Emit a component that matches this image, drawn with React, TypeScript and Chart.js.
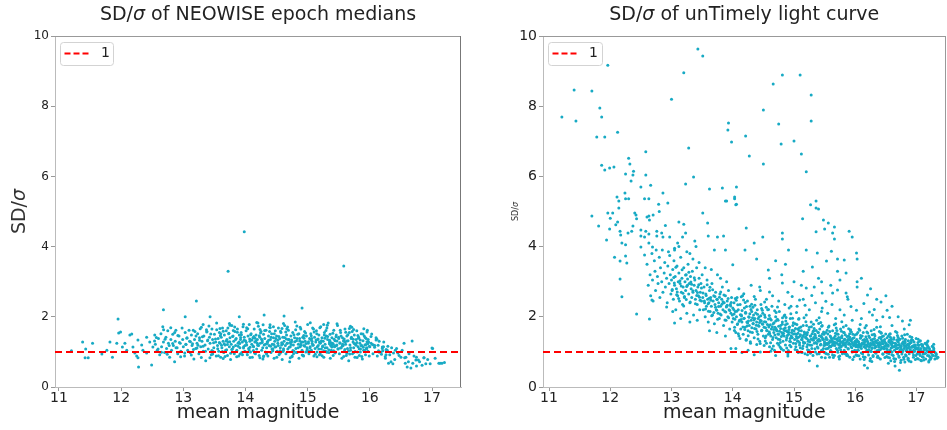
import React, { useEffect, useRef } from "react";
import { Chart, registerables } from "chart.js";
Chart.register(...registerables);

// ---------- data ----------
const xTickValues = [11, 12, 13, 14, 15, 16, 17];
const yTickValues = [0, 2, 4, 6, 8, 10];
const referenceLevel = 1;
const legendLabel = "1";

const leftTitle = "of NEOWISE epoch medians";
const rightTitle = "of unTimely light curve";
const xAxisLabel = "mean magnitude";

// NEOWISE epoch medians: [mag, SD/sigma] pairs
const neowiseXY: number[] = [
  11.2,1.03, 11.38,1.28, 11.43,1.08, 11.42,0.83, 11.47,0.83, 11.54,1.25, 11.69,0.94, 11.77,1.05, 11.82,1.28, 11.86,0.85,
  11.93,1.25, 11.95,1.94, 11.96,1.54, 11.99,1.57, 12.02,1.14, 12.06,1.25, 12.09,1.05, 12.14,1.48, 12.17,1.51, 12.19,1.14,
  12.22,0.97, 12.25,0.88, 12.27,0.83, 12.28,0.57, 12.27,1.34, 12.33,1.2, 12.35,1.05, 12.41,1.42, 12.41,0.97, 12.46,1.28,
  12.49,0.63, 12.51,1.14, 12.54,1.48,
  12.55,1.22, 12.58,1.05, 12.6,1.38, 12.62,0.92, 12.64,1.52, 12.65,1.15, 12.67,1.72, 12.68,1.28, 12.7,0.98, 12.68,2.2,
  12.72,1.42, 12.73,1.1, 12.75,1.6, 12.76,1.25, 12.78,0.85, 12.8,1.35, 12.81,1.05, 12.83,1.5, 12.84,1.18, 12.86,0.72,
  12.87,1.3, 12.88,1.62, 12.9,1.12, 12.91,0.95, 12.93,1.45, 12.95,1.25, 12.96,1.02, 12.98,1.68, 12.99,1.35, 13.0,1.15,
  13.02,0.88, 13.03,1.55, 13.04,1.22, 13.06,1.4, 13.07,1.05, 13.03,2.0, 13.1,1.3, 13.11,0.98, 13.13,1.48, 13.14,1.18,
  13.16,1.62, 13.17,0.8, 13.18,1.35, 13.2,1.1, 13.21,2.45, 13.22,1.25, 13.23,1.52, 13.25,0.95, 13.26,1.4, 13.28,1.15,
  13.29,1.7, 13.3,1.3, 13.32,1.02, 13.33,1.45, 13.35,1.2, 13.36,0.75, 13.38,1.58, 13.39,1.32, 13.4,1.08, 13.42,1.42,
  13.43,1.25, 13.45,0.92, 13.46,1.65, 13.47,1.35, 13.49,1.12, 13.5,1.5, 13.43,2.0, 13.52,1.28, 13.53,0.88,
  13.55,1.18, 13.56,1.38, 13.57,1.02, 13.58,1.55, 13.59,1.25, 13.6,0.85, 13.61,1.42, 13.62,1.12, 13.63,1.68, 13.64,1.3,
  13.65,0.98, 13.66,1.48, 13.67,1.2, 13.68,1.05, 13.69,1.6, 13.7,1.35, 13.71,0.9, 13.72,1.28, 13.72,3.3, 13.73,1.52,
  13.74,1.15, 13.75,1.4, 13.76,0.78, 13.77,1.22, 13.78,1.75, 13.79,1.08, 13.8,1.45, 13.81,1.3, 13.82,0.95, 13.83,1.58,
  13.84,1.18, 13.85,1.38, 13.86,1.05, 13.87,1.65, 13.88,1.25, 13.89,0.88, 13.9,1.48, 13.9,2.0, 13.91,1.12, 13.92,1.35,
  13.93,1.55, 13.94,0.98, 13.95,1.28, 13.96,1.72, 13.97,1.15, 13.98,1.42, 13.98,4.42, 13.99,1.02, 14.0,1.32,
  14.01,1.6, 14.02,1.2, 14.03,0.92, 14.04,1.45, 14.05,1.1, 14.06,1.78, 14.07,1.3, 14.08,1.0, 14.09,1.52, 14.1,1.22,
  14.11,0.85, 14.12,1.4, 14.13,1.15, 14.14,1.65, 14.15,1.28, 14.16,0.95, 14.17,1.48, 14.18,1.08, 14.19,1.35, 14.2,1.82,
  14.21,1.18, 14.22,0.9, 14.23,1.42, 14.24,1.25, 14.25,1.58, 14.26,1.05, 14.27,1.32, 14.28,0.8, 14.29,1.5, 14.3,1.2,
  14.3,2.05, 14.31,1.38, 14.32,1.0, 14.33,1.62, 14.34,1.12, 14.35,1.28, 14.36,0.88, 14.37,1.45, 14.38,1.18, 14.39,1.7,
  14.4,1.35, 14.41,0.98, 14.42,1.52, 14.43,1.22, 14.44,1.08, 14.45,1.4, 14.46,0.82, 14.47,1.3, 14.48,1.6, 14.49,1.15,
  14.5,1.45, 14.51,1.02, 14.52,1.25, 14.53,1.68, 14.54,0.92, 14.55,1.38, 14.56,1.12, 14.57,1.55, 14.58,1.2, 14.59,0.78,
  14.6,1.42, 14.61,1.05, 14.62,1.3, 14.62,2.02, 14.63,1.75, 14.64,1.18, 14.65,0.95, 14.66,1.48, 14.67,1.25, 14.68,1.08,
  14.69,1.62, 14.7,1.35, 14.71,0.72, 14.72,1.15, 14.73,1.45, 14.74,1.28, 14.75,0.88, 14.76,1.55, 14.77,1.2, 14.78,1.02,
  14.79,1.4, 14.8,1.85, 14.81,1.1, 14.82,1.32, 14.83,0.98, 14.84,1.5, 14.85,1.22, 14.86,0.82, 14.87,1.38, 14.88,1.15,
  14.89,1.65, 14.9,1.28, 14.91,2.25, 14.91,1.05, 14.92,1.42, 14.93,0.9, 14.94,1.18, 14.95,1.58, 14.96,1.3, 14.97,1.0,
  14.98,1.45, 14.99,1.12, 15.0,1.78,
  15.01,1.25, 15.02,0.95, 15.03,1.38, 15.04,1.15, 15.05,1.52, 15.06,1.05, 15.07,1.3, 15.08,1.68, 15.09,1.2, 15.1,0.88,
  15.11,1.42, 15.12,1.1, 15.13,1.28, 15.14,1.6, 15.15,1.0, 15.16,1.35, 15.17,1.18, 15.18,1.48, 15.19,0.92, 15.2,1.25,
  15.21,1.72, 15.22,1.08, 15.23,1.4, 15.24,1.15, 15.25,1.3, 15.26,0.85, 15.27,1.55, 15.28,1.22, 15.29,1.02, 15.3,1.45,
  15.31,1.12, 15.32,1.35, 15.33,1.82, 15.34,0.98, 15.35,1.28, 15.36,1.5, 15.37,1.18, 15.38,1.05, 15.39,1.4, 15.4,1.25,
  15.41,0.9, 15.42,1.62, 15.43,1.15, 15.44,1.32, 15.45,1.0, 15.46,1.48, 15.47,1.2, 15.48,1.75, 15.49,1.08, 15.5,1.38,
  15.51,0.95, 15.52,1.25, 15.53,1.55, 15.54,1.12, 15.55,0.82, 15.56,1.4, 15.57,1.18, 15.58,3.45, 15.58,1.3, 15.59,1.02,
  15.6,1.65, 15.61,1.22, 15.62,0.9, 15.63,1.45, 15.64,1.1, 15.65,1.32, 15.66,0.75, 15.67,1.55, 15.68,1.2, 15.69,1.05,
  15.7,1.38, 15.71,1.7, 15.72,0.95, 15.73,1.28, 15.74,1.12, 15.75,1.48, 15.76,0.85, 15.77,1.22, 15.78,1.35, 15.79,1.6,
  15.8,1.0, 15.81,1.15, 15.82,1.42, 15.83,0.9, 15.84,1.25, 15.85,1.08, 15.86,1.52, 15.87,1.18, 15.88,0.8, 15.89,1.32,
  15.9,1.05, 15.91,1.45, 15.92,1.2, 15.93,0.92, 15.94,1.38, 15.95,1.12, 15.96,1.62, 15.97,1.02, 15.98,1.28, 15.99,0.88,
  16.0,1.15,
  16.02,1.25, 15.95,1.1, 16.06,1.2, 16.14,1.03, 16.2,1.1, 16.26,0.92, 16.3,0.68, 16.34,0.72, 16.37,0.66, 16.43,1.1,
  16.45,0.97, 16.55,1.25, 16.58,0.85, 16.6,0.57, 16.62,0.72, 16.66,0.54, 16.68,1.31, 16.69,0.68, 16.74,0.77, 16.75,0.6,
  16.75,0.85, 16.78,0.77, 16.87,0.83, 16.9,0.66, 16.97,0.66, 17.01,1.1, 17.11,0.68, 17.16,0.68, 16.5,0.85, 16.38,0.97,
  16.1,1.4, 16.03,1.51, 16.56,0.83, 16.57,0.68, 16.1,1.34, 16.2,1.14, 16.41,1.05, 16.87,0.83, 17.0,1.11, 17.13,0.68,
  16.05,0.95, 16.08,1.18, 16.12,0.88, 16.15,1.3, 16.18,1.0, 16.22,1.15, 16.25,0.82, 16.28,1.05, 16.32,0.92, 16.35,1.12,
  16.4,0.78, 16.47,0.9, 16.52,1.05, 16.63,0.95, 16.71,0.88, 16.8,0.72, 16.84,0.62, 16.93,0.78, 17.05,0.82, 17.2,0.7,
];

// NEOWISE: denser core of the cloud
const neowiseCoreXY: number[] = [
  12.537,1.31, 12.912,1.47, 12.648,0.99, 12.773,1.18, 12.861,1.55, 12.594,1.08, 12.706,1.36, 12.957,0.86, 12.829,1.24, 12.683,1.63,
  12.741,0.93, 12.883,1.12, 12.566,1.41, 12.798,1.69, 12.937,1.27,
  13.043,1.21, 13.377,1.57, 13.128,0.91, 13.261,1.33, 13.459,1.04, 13.092,1.62, 13.318,1.16, 13.204,1.45, 13.486,1.26, 13.163,1.07,
  13.412,1.74, 13.057,1.39, 13.289,0.84, 13.235,1.19, 13.441,1.51, 13.114,1.29, 13.356,1.02, 13.187,1.58, 13.023,0.97, 13.394,1.34,
  13.271,1.66, 13.148,1.23, 13.472,0.94, 13.307,1.43, 13.219,1.11,
  13.517,1.37, 13.883,1.16, 13.642,1.59, 13.761,0.96, 13.579,1.27, 13.934,1.49, 13.708,1.21, 13.826,1.71, 13.553,1.09, 13.977,1.33,
  13.671,0.87, 13.792,1.44, 13.614,1.19, 13.856,1.02, 13.733,1.53, 13.908,1.24, 13.537,1.63, 13.689,1.31, 13.951,0.92, 13.804,1.14,
  13.596,1.46, 13.747,1.29, 13.869,1.56, 13.628,1.01, 13.992,1.18, 13.716,1.68, 13.564,0.89, 13.841,1.35, 13.657,1.23, 13.923,1.41,
  13.779,1.07, 13.603,1.52, 13.895,1.28, 13.742,1.81, 13.968,1.11,
  14.013,1.27, 14.387,1.58, 14.146,0.97, 14.259,1.36, 14.472,1.14, 14.083,1.49, 14.321,1.22, 14.207,1.73, 14.439,1.03, 14.168,1.31,
  14.036,1.66, 14.294,0.88, 14.412,1.42, 14.121,1.17, 14.353,1.29, 14.241,1.54, 14.058,1.06, 14.487,1.38, 14.189,1.25, 14.277,1.12,
  14.397,1.69, 14.104,1.34, 14.338,0.94, 14.221,1.46, 14.456,1.21, 14.072,1.13, 14.309,1.61, 14.154,1.39, 14.426,1.08, 14.268,1.27,
  14.024,0.99, 14.371,1.33, 14.196,1.19, 14.463,1.52, 14.135,1.44, 14.283,1.77, 14.404,1.16, 14.067,1.37, 14.349,1.24, 14.232,0.83,
  14.518,1.33, 14.893,1.19, 14.647,1.57, 14.762,1.04, 14.581,1.26, 14.937,1.47, 14.704,1.13, 14.829,1.38, 14.556,0.96, 14.973,1.24,
  14.676,1.71, 14.791,1.29, 14.612,1.09, 14.858,1.52, 14.733,1.21, 14.912,0.91, 14.537,1.44, 14.689,1.35, 14.954,1.16, 14.807,1.63,
  14.598,1.23, 14.748,0.86, 14.871,1.31, 14.629,1.41, 14.992,1.07, 14.716,1.27, 14.563,1.59, 14.846,1.12, 14.657,1.37, 14.924,1.28,
  14.779,1.49, 14.603,1.01, 14.889,1.22, 14.742,1.34, 14.966,1.54, 14.527,1.18, 14.818,0.98, 14.671,1.25, 14.941,1.39, 14.587,1.67,
  15.013,1.29, 15.387,1.14, 15.146,1.52, 15.259,1.03, 15.472,1.31, 15.083,1.19, 15.321,1.44, 15.207,1.26, 15.439,0.97, 15.168,1.37,
  15.036,1.11, 15.294,1.61, 15.412,1.22, 15.121,0.93, 15.353,1.33, 15.241,1.17, 15.058,1.46, 15.487,1.09, 15.189,1.28, 15.277,1.39,
  15.397,1.21, 15.104,1.57, 15.338,1.06, 15.221,1.32, 15.456,1.43, 15.072,1.24, 15.309,0.99, 15.154,1.15, 15.426,1.36, 15.268,1.48,
  15.024,1.02, 15.371,1.27, 15.196,1.69, 15.463,1.18, 15.135,1.34, 15.283,1.12, 15.404,1.53, 15.067,1.38, 15.349,1.23, 15.232,0.89,
  15.498,1.42, 15.178,1.08, 15.315,1.76, 15.048,1.35, 15.442,1.16,
  15.518,1.26, 15.893,1.13, 15.647,1.49, 15.762,1.01, 15.581,1.33, 15.937,1.21, 15.704,1.42, 15.829,1.09, 15.556,1.17, 15.973,1.35,
  15.676,0.94, 15.791,1.27, 15.612,1.56, 15.858,1.18, 15.733,1.36, 15.912,1.04, 15.537,1.45, 15.689,1.12, 15.954,1.29, 15.807,1.47,
  15.598,1.07, 15.748,1.24, 15.871,0.87, 15.629,1.31, 15.992,1.16, 15.716,1.58, 15.563,1.22, 15.846,1.34, 15.657,1.03, 15.924,1.41,
  15.779,1.19, 15.603,1.28, 15.889,1.51, 15.742,0.98, 15.966,1.23, 15.527,1.11, 15.818,1.39, 15.671,1.67, 15.941,1.08, 15.587,1.37,
  16.041,1.21, 16.187,0.93, 16.113,1.36, 16.262,1.07, 16.076,1.13, 16.224,1.28, 16.153,0.99, 16.289,1.16, 16.018,1.44, 16.209,1.03,
  16.133,1.19, 16.247,0.86,
];

// NEOWISE: upper and lower edges of the cloud
const neowiseEdgeXY: number[] = [
  13.318,1.78, 13.427,0.83, 13.536,1.82, 13.641,0.81, 13.752,1.76, 13.858,0.86, 13.967,1.79, 14.072,0.84, 14.181,1.84, 14.289,0.87,
  14.395,1.77, 14.503,0.85, 14.611,1.81, 14.719,0.83, 14.826,1.74, 14.934,0.88, 15.042,1.83, 15.149,0.86, 15.257,1.78, 15.364,0.82,
  15.472,1.8, 15.579,0.87, 15.687,1.73, 15.795,0.84, 15.903,1.66,
  13.372,1.63, 13.481,1.01, 13.589,1.67, 13.697,1.06, 13.804,1.61, 13.912,0.94, 14.019,1.69, 14.127,1.04, 14.234,1.64, 14.342,0.97,
  14.449,1.72, 14.557,1.03, 14.664,1.66, 14.772,0.95, 14.879,1.7, 14.987,1.01, 15.094,1.65, 15.202,0.94, 15.309,1.68, 15.417,1.03,
  15.524,1.62, 15.632,0.96, 15.739,1.64, 15.847,1.0, 15.954,1.57,
];

// unTimely light curve: [mag, SD/sigma] pairs (sparse upper part and outliers)
const untimelyXY: number[] = [
  11.21,7.69, 11.41,8.46, 11.44,7.58, 11.7,8.43, 11.96,9.17, 11.83,7.95, 11.86,7.69, 11.78,7.12, 11.91,7.12, 12.12,7.26,
  13.0,8.2, 11.86,6.32, 11.91,6.18, 11.99,6.24, 12.06,6.27, 12.3,6.52, 12.32,6.35, 12.38,6.15, 12.37,6.04, 12.25,6.07,
  12.58,6.7, 12.58,6.04, 12.34,5.87, 12.5,5.7, 12.66,5.75, 12.24,5.53, 12.11,5.41, 12.14,5.3, 12.25,5.36, 12.3,5.36,
  12.56,5.36, 12.63,5.36, 12.79,5.21, 12.94,5.24, 12.86,5.53, 12.14,5.1, 11.7,4.87, 11.81,4.59, 11.94,4.19, 11.96,4.96,
  12.04,4.96, 12.0,4.81, 12.12,4.7, 12.09,4.62, 11.99,4.5, 12.16,4.44, 12.17,4.33, 12.19,4.1, 12.25,4.05, 12.07,3.7,
  12.16,3.59, 12.27,3.53, 12.16,3.08, 12.25,3.73, 12.29,4.39, 12.35,4.44, 12.37,4.59, 12.4,4.96, 12.42,4.9, 12.43,4.79,
  12.5,4.47, 12.58,4.44, 12.5,4.3, 12.63,4.36, 12.56,4.27, 12.6,4.84, 12.63,4.87, 12.64,4.76, 12.5,3.99, 12.56,3.76,
  12.69,3.99, 12.76,4.44, 12.84,4.39, 12.86,4.27, 12.97,4.27, 13.18,4.27, 13.23,4.39, 13.12,4.7, 13.2,4.64, 13.23,5.78,
  13.36,5.98, 13.28,6.81, 13.62,5.64, 13.83,5.67, 13.59,4.67, 13.51,4.96, 13.75,4.27, 13.38,4.16, 13.9,5.3, 14.03,5.36,
  14.06,5.21, 13.93,7.52, 13.92,7.32, 13.98,6.98, 13.88,3.9, 13.43,9.63, 13.51,9.43, 13.2,8.95, 12.19,2.57, 12.43,2.08,
  12.64,1.94, 12.92,2.28, 12.68,2.48, 13.05,1.82,
  14.81,8.89, 15.1,8.89, 14.66,8.63, 15.28,8.32, 14.5,7.89, 14.75,7.49, 15.28,7.58, 14.21,7.15, 15.0,7.01, 14.79,6.92,
  15.12,6.64, 14.27,6.58, 14.5,6.35, 15.2,6.13, 14.06,5.7, 14.03,5.41, 13.88,5.3, 14.05,5.19, 15.36,5.3, 15.27,5.19,
  15.36,5.1, 15.4,5.07, 15.14,4.79, 15.48,4.76, 15.56,4.67, 14.22,4.53, 14.49,4.27, 14.81,4.39, 14.81,4.22, 15.36,4.42,
  15.66,4.56, 15.5,4.5, 15.63,4.39, 15.9,4.44, 15.95,4.27, 15.66,4.22, 14.91,3.9, 15.2,3.9, 15.38,3.82, 15.61,3.87,
  16.02,3.82, 16.03,3.65, 14.39,3.65, 14.86,3.5, 15.53,3.59, 15.71,3.65, 15.82,3.62, 14.0,3.48, 14.58,3.33, 15.3,3.42,
  15.71,3.3, 15.85,3.25,
  15.0,3.0, 15.15,3.3, 15.45,3.0, 15.6,2.9, 15.75,3.05, 16.1,3.1, 16.25,2.8, 16.35,2.5, 16.5,2.6, 16.6,2.3,
  16.7,2.0, 16.9,1.9, 14.9,2.7, 14.7,3.6, 14.2,3.9, 14.35,4.1, 13.7,3.9, 13.85,4.3, 13.6,4.3, 13.3,3.8,
  13.1,4.1, 12.9,4.6, 12.7,4.9, 12.8,5.0, 13.05,3.95, 13.4,4.0, 12.95,3.85, 12.75,3.9,
  14.97,2.58, 15.18,2.33, 15.29,2.61, 15.52,2.44, 15.71,2.76, 15.93,2.29, 16.14,2.38, 16.31,2.21, 16.56,1.98, 16.77,1.88,
  15.04,2.12, 15.41,1.97, 15.78,1.86, 16.08,1.78, 16.41,1.72, 14.73,2.28, 14.52,2.42, 14.87,1.98, 14.35,2.58, 14.18,2.66,
  14.62,1.02, 14.83,1.05, 15.07,0.98, 15.22,0.92, 15.51,0.83, 15.73,0.86, 15.96,0.78, 16.27,0.73, 16.54,0.68, 16.81,0.71,
  17.07,0.76,
];

// unTimely: the main band
const untimelyBandXY: number[] = [
  12.6,3.5, 12.62,2.9, 12.63,4.1, 12.65,3.2, 12.66,2.6, 12.68,3.8, 12.69,3.05, 12.7,2.45, 12.72,3.6, 12.73,3.3,
  12.74,2.75, 12.76,4.3, 12.77,3.15, 12.78,2.95, 12.8,3.7, 12.81,2.55, 12.82,3.4, 12.84,3.0, 12.85,3.9, 12.86,2.7,
  12.88,3.25, 12.89,3.55, 12.9,2.85, 12.92,3.1, 12.93,2.4, 12.94,3.45, 12.96,2.95, 12.97,3.75, 12.98,3.2, 12.99,2.65,
  13.0,3.05, 13.01,2.75, 13.02,3.35, 13.03,2.5, 13.04,3.6, 13.05,2.9, 13.06,3.15, 13.07,2.2, 13.08,2.8, 13.09,3.45,
  13.1,2.6, 13.11,3.0, 13.12,3.25, 13.13,2.45, 13.14,2.95, 13.15,3.7, 13.16,2.7, 13.17,3.1, 13.18,2.35, 13.19,2.85,
  13.2,3.4, 13.21,2.55, 13.22,3.0, 13.23,2.75, 13.24,3.2, 13.25,2.1, 13.26,2.9, 13.27,3.5, 13.28,2.65, 13.29,2.95,
  13.3,2.4, 13.31,3.15, 13.32,2.8, 13.33,2.55, 13.34,3.3, 13.35,2.7, 13.36,2.05, 13.37,2.9, 13.38,3.05, 13.39,2.5,
  13.4,2.75, 13.41,3.4, 13.42,2.35, 13.43,2.85, 13.44,2.6, 13.45,3.1, 13.46,2.2, 13.47,2.7, 13.48,2.95, 13.49,2.45,
  13.5,3.2, 13.05,3.9, 13.12,4.0, 13.25,3.85, 13.35,3.65, 13.45,3.55, 13.02,2.15, 13.15,1.95, 13.3,1.85, 13.42,1.9,
  13.51,2.55, 13.52,2.2, 13.53,2.85, 13.54,2.4, 13.55,2.0, 13.56,2.65, 13.57,2.3, 13.58,3.05, 13.59,2.5, 13.6,1.85,
  13.61,2.4, 13.62,2.75, 13.63,2.15, 13.64,2.55, 13.65,2.3, 13.66,2.95, 13.67,2.05, 13.68,2.45, 13.69,2.6, 13.7,1.8,
  13.71,2.35, 13.72,2.7, 13.73,2.2, 13.74,2.5, 13.75,3.2, 13.76,2.1, 13.77,2.4, 13.78,1.95, 13.79,2.65, 13.8,2.3,
  13.81,2.05, 13.82,2.5, 13.83,2.85, 13.84,2.2, 13.85,1.75, 13.86,2.4, 13.87,2.15, 13.88,2.6, 13.89,1.9, 13.9,2.3,
  13.91,2.45, 13.92,2.0, 13.93,2.75, 13.94,2.2, 13.95,1.65, 13.96,2.35, 13.97,2.1, 13.98,2.55, 13.99,1.85, 14.0,2.25,
  13.55,3.4, 13.65,3.35, 13.8,3.1, 13.9,3.0, 13.62,1.6, 13.74,1.55, 13.88,1.45, 13.97,1.1,
  14.01,1.95, 14.02,2.4, 14.03,1.7, 14.04,2.15, 14.05,1.55, 14.06,2.0, 14.07,2.55, 14.08,1.8, 14.09,2.2, 14.1,1.45,
  14.11,1.9, 14.12,2.35, 14.13,1.65, 14.14,2.05, 14.15,1.85, 14.16,2.6, 14.17,1.5, 14.18,1.95, 14.19,2.25, 14.2,1.7,
  14.21,2.1, 14.22,1.35, 14.23,1.85, 14.24,2.45, 14.25,1.6, 14.26,2.0, 14.27,1.75, 14.28,2.3, 14.29,1.25, 14.3,1.9,
  14.31,2.15, 14.32,1.55, 14.33,1.8, 14.34,2.05, 14.35,1.4, 14.36,1.95, 14.37,2.5, 14.38,1.65, 14.39,1.85, 14.4,2.2,
  14.41,1.5, 14.42,1.75, 14.43,2.0, 14.44,1.3, 14.45,1.9, 14.46,2.35, 14.47,1.6, 14.48,1.8, 14.49,2.1, 14.5,1.45,
  14.05,1.1, 14.15,0.98, 14.25,1.05, 14.35,0.92, 14.45,1.0, 14.1,2.8, 14.3,2.9, 14.45,2.75,
  14.51,1.7, 14.52,2.05, 14.53,1.4, 14.54,1.85, 14.55,1.25, 14.56,1.6, 14.57,2.2, 14.58,1.5, 14.59,1.75, 14.6,1.15,
  14.61,1.95, 14.62,1.45, 14.63,1.65, 14.64,2.3, 14.65,1.35, 14.66,1.8, 14.67,1.55, 14.68,1.05, 14.69,1.7, 14.7,2.0,
  14.71,1.4, 14.72,1.6, 14.73,1.25, 14.74,1.9, 14.75,1.5, 14.76,2.15, 14.77,1.35, 14.78,1.75, 14.79,1.1, 14.8,1.55,
  14.81,1.85, 14.82,1.3, 14.83,1.65, 14.84,1.45, 14.85,2.05, 14.86,1.2, 14.87,1.6, 14.88,1.4, 14.89,1.8, 14.9,0.95,
  14.91,1.5, 14.92,1.7, 14.93,1.3, 14.94,1.95, 14.95,1.15, 14.96,1.55, 14.97,1.4, 14.98,1.75, 14.99,1.25, 15.0,1.6,
  14.55,2.5, 14.65,2.6, 14.75,2.45, 14.85,2.35, 14.95,2.3, 14.6,3.1, 14.8,3.2, 14.7,0.9, 14.9,0.88,
  15.01,1.35, 15.02,1.8, 15.03,1.15, 15.04,1.5, 15.05,1.05, 15.06,1.65, 15.07,1.3, 15.08,1.95, 15.09,1.2, 15.1,1.45,
  15.11,1.0, 15.12,1.6, 15.13,1.35, 15.14,1.1, 15.15,1.75, 15.16,1.25, 15.17,1.5, 15.18,0.95, 15.19,1.4, 15.2,2.05,
  15.21,1.15, 15.22,1.55, 15.23,1.3, 15.24,1.05, 15.25,1.7, 15.26,1.2, 15.27,1.45, 15.28,1.85, 15.29,1.1, 15.3,1.35,
  15.31,0.9, 15.32,1.6, 15.33,1.25, 15.34,1.5, 15.35,1.0, 15.36,1.4, 15.37,1.9, 15.38,1.15, 15.39,1.55, 15.4,1.3,
  15.41,0.95, 15.42,1.65, 15.43,1.2, 15.44,1.45, 15.45,1.05, 15.46,1.75, 15.47,1.35, 15.48,1.1, 15.49,1.5, 15.5,1.25,
  15.05,2.3, 15.15,2.5, 15.25,2.2, 15.35,2.4, 15.45,2.15, 15.12,2.9, 15.4,3.1, 15.25,0.75, 15.38,0.6, 15.45,0.85,
  15.51,1.2, 15.52,1.55, 15.53,0.95, 15.54,1.35, 15.55,1.1, 15.56,1.7, 15.57,1.25, 15.58,0.85, 15.59,1.45, 15.6,1.15,
  15.61,1.3, 15.62,1.0, 15.63,1.6, 15.64,1.2, 15.65,1.4, 15.66,0.9, 15.67,1.25, 15.68,1.8, 15.69,1.1, 15.7,1.35,
  15.71,1.05, 15.72,1.5, 15.73,1.2, 15.74,0.8, 15.75,1.3, 15.76,1.65, 15.77,1.15, 15.78,1.4, 15.79,0.95, 15.8,1.25,
  15.81,1.55, 15.82,1.05, 15.83,1.35, 15.84,1.2, 15.85,1.75, 15.86,0.9, 15.87,1.3, 15.88,1.1, 15.89,1.45, 15.9,1.25,
  15.91,0.85, 15.92,1.6, 15.93,1.15, 15.94,1.35, 15.95,1.0, 15.96,1.5, 15.97,1.2, 15.98,1.4, 15.99,1.05, 16.0,1.3,
  15.55,2.1, 15.62,2.35, 15.68,1.95, 15.75,2.2, 15.82,2.05, 15.88,2.5, 15.95,1.9, 15.63,2.68, 15.85,2.68, 15.87,2.57,
  15.46,2.68, 15.33,2.85, 15.2,2.82, 15.09,2.48, 15.46,2.25, 14.92,2.25, 14.81,2.96, 14.44,2.85, 14.6,2.71, 16.03,2.85,
  16.03,3.0,
  16.01,1.15, 16.02,1.5, 16.03,0.9, 16.04,1.3, 16.05,1.05, 16.06,1.65, 16.07,1.2, 16.08,0.8, 16.09,1.4, 16.1,1.1,
  16.11,1.25, 16.12,0.95, 16.13,1.55, 16.14,1.15, 16.15,1.35, 16.16,0.85, 16.17,1.2, 16.18,1.75, 16.19,1.05, 16.2,1.3,
  16.21,1.0, 16.22,1.45, 16.23,1.15, 16.24,0.75, 16.25,1.25, 16.26,1.6, 16.27,1.1, 16.28,1.35, 16.29,0.9, 16.3,1.2,
  16.31,1.5, 16.32,1.0, 16.33,1.3, 16.34,1.15, 16.35,1.7, 16.36,0.85, 16.37,1.25, 16.38,1.05, 16.39,1.4, 16.4,1.2,
  16.41,0.8, 16.42,1.55, 16.43,1.1, 16.44,1.3, 16.45,0.95, 16.46,1.45, 16.47,1.15, 16.48,1.35, 16.49,1.0, 16.5,1.25,
  16.2,2.62, 16.42,2.42, 16.23,2.14, 16.02,2.19, 16.28,2.05, 16.1,1.95, 16.35,1.9, 16.45,2.0, 16.2,0.54, 16.15,0.62,
  16.51,1.1, 16.52,1.4, 16.53,0.85, 16.54,1.2, 16.55,0.95, 16.56,1.5, 16.57,1.05, 16.58,0.75, 16.59,1.3, 16.6,1.0,
  16.61,1.15, 16.62,0.9, 16.63,1.4, 16.64,1.05, 16.65,1.25, 16.66,0.8, 16.67,1.1, 16.68,1.55, 16.69,0.95, 16.7,1.2,
  16.71,0.88, 16.72,1.35, 16.73,1.05, 16.74,0.7, 16.75,1.15, 16.76,1.45, 16.77,1.0, 16.78,1.25, 16.79,0.85, 16.8,1.1,
  16.81,1.3, 16.82,0.92, 16.83,1.18, 16.84,1.05, 16.85,1.5, 16.86,0.78, 16.87,1.12, 16.88,0.95, 16.89,1.25, 16.9,1.05,
  16.91,0.72, 16.92,1.35, 16.93,1.0, 16.94,1.15, 16.95,0.85, 16.96,1.28, 16.97,1.02, 16.98,1.2, 16.99,0.9, 17.0,1.1,
  16.52,2.19, 16.88,1.77, 16.72,0.48, 16.6,1.75, 16.8,1.65, 16.65,0.6,
  17.01,0.95, 17.02,1.2, 17.03,0.8, 17.04,1.05, 17.05,1.3, 17.06,0.9, 17.07,1.1, 17.08,0.75, 17.09,1.0, 17.1,1.2,
  17.11,0.85, 17.12,1.05, 17.13,0.95, 17.14,1.25, 17.15,0.8, 17.16,1.1, 17.17,1.2, 17.18,0.9, 17.19,1.0, 17.2,0.71,
  17.21,1.1, 17.22,0.85, 17.24,0.83, 17.25,1.0, 17.27,0.9, 17.28,1.05, 17.3,0.8, 17.32,0.95, 17.35,0.85,
];

// unTimely: extra points filling the dense core of the band
const untimelyCoreXY: number[] = [
  13.037,3.12, 13.412,2.61, 13.158,2.88, 13.283,3.27, 13.466,2.47, 13.094,2.71, 13.327,2.93, 13.211,2.58, 13.489,2.82, 13.173,3.34,
  13.046,2.96, 13.391,2.37, 13.262,3.08, 13.117,2.52, 13.348,2.74, 13.229,3.19, 13.071,3.41, 13.444,2.91, 13.187,2.67, 13.306,2.42,
  13.138,3.03, 13.423,2.69, 13.248,2.86, 13.012,2.78, 13.372,3.11, 13.199,2.31, 13.457,2.56, 13.084,2.63, 13.316,2.99, 13.241,2.49,
  13.514,2.68, 13.887,2.14, 13.643,2.47, 13.768,2.29, 13.582,2.91, 13.932,1.97, 13.709,2.58, 13.823,2.36, 13.556,2.22, 13.974,2.41,
  13.672,2.77, 13.794,2.08, 13.617,2.53, 13.856,2.62, 13.738,2.19, 13.909,2.33, 13.537,2.45, 13.691,2.12, 13.951,2.18, 13.803,2.71,
  13.598,2.37, 13.747,2.49, 13.872,1.91, 13.628,2.84, 13.993,2.05, 13.719,2.27, 13.566,2.61, 13.841,2.43, 13.656,2.03, 13.924,2.52,
  13.782,2.56, 13.603,2.16, 13.896,2.28, 13.754,1.93, 13.965,2.31,
  14.016,2.21, 14.384,1.76, 14.143,2.02, 14.256,1.88, 14.474,1.62, 14.081,2.34, 14.323,1.97, 14.209,2.13, 14.437,1.84, 14.166,1.71,
  14.034,1.93, 14.297,2.21, 14.414,1.95, 14.124,2.06, 14.356,1.67, 14.243,1.82, 14.057,2.47, 14.489,1.79, 14.187,1.96, 14.279,2.09,
  14.396,1.58, 14.106,1.87, 14.334,1.81, 14.224,2.29, 14.458,2.03, 14.074,1.78, 14.311,1.69, 14.152,2.18, 14.427,1.73, 14.268,1.99,
  14.022,2.08, 14.373,2.11, 14.196,1.64, 14.466,1.88, 14.136,1.92, 14.286,1.57, 14.403,2.07, 14.064,2.16, 14.347,1.91, 14.233,1.74,
  14.517,1.86, 14.892,1.47, 14.646,1.72, 14.764,1.59, 14.583,1.94, 14.936,1.38, 14.706,1.66, 14.828,1.53, 14.554,1.61, 14.972,1.62,
  14.674,1.83, 14.793,1.44, 14.614,1.77, 14.857,1.69, 14.736,1.51, 14.913,1.56, 14.536,1.69, 14.687,1.48, 14.953,1.46, 14.808,1.79,
  14.597,1.57, 14.749,1.73, 14.874,1.34, 14.628,1.91, 14.991,1.51, 14.717,1.62, 14.566,1.78, 14.843,1.61, 14.657,1.41, 14.926,1.71,
  14.781,1.67, 14.603,1.52, 14.887,1.58, 14.744,1.36, 14.964,1.42, 14.528,1.99, 14.816,1.49, 14.669,1.64, 14.943,1.29, 14.589,1.71,
  14.702,1.88, 14.861,1.77, 14.775,1.27, 14.542,1.45, 14.918,1.64,
  15.014,1.52, 15.386,1.33, 15.147,1.46, 15.258,1.29, 15.473,1.37, 15.082,1.61, 15.322,1.41, 15.208,1.38, 15.438,1.22, 15.167,1.57,
  15.037,1.44, 15.296,1.52, 15.413,1.46, 15.123,1.35, 15.354,1.27, 15.242,1.63, 15.056,1.31, 15.488,1.18, 15.188,1.43, 15.278,1.36,
  15.398,1.55, 15.105,1.49, 15.336,1.39, 15.223,1.21, 15.457,1.41, 15.073,1.42, 15.311,1.58, 15.153,1.28, 15.427,1.32, 15.267,1.45,
  15.023,1.67, 15.372,1.24, 15.197,1.54, 15.464,1.51, 15.136,1.41, 15.287,1.19, 15.406,1.36, 15.066,1.53, 15.347,1.47, 15.233,1.34,
  15.497,1.29, 15.177,1.26, 15.316,1.33, 15.047,1.39, 15.443,1.44, 15.112,1.71, 15.362,1.61, 15.213,1.49, 15.482,1.57, 15.091,1.26,
  15.516,1.36, 15.891,1.22, 15.648,1.29, 15.763,1.41, 15.584,1.17, 15.934,1.31, 15.707,1.24, 15.824,1.36, 15.553,1.51, 15.976,1.18,
  15.673,1.45, 15.796,1.19, 15.618,1.33, 15.853,1.27, 15.739,1.12, 15.911,1.42, 15.538,1.25, 15.694,1.37, 15.953,1.26, 15.806,1.31,
  15.597,1.43, 15.752,1.23, 15.878,1.35, 15.626,1.19, 15.991,1.29, 15.718,1.32, 15.567,1.27, 15.844,1.15, 15.658,1.38, 15.922,1.21,
  15.784,1.46, 15.606,1.29, 15.886,1.08, 15.746,1.34, 15.962,1.39, 15.524,1.41, 15.813,1.25, 15.667,1.18, 15.944,1.12, 15.588,1.32,
  15.702,1.52, 15.865,1.44, 15.772,1.28, 15.546,1.21, 15.917,1.33, 15.633,1.24, 15.837,1.49, 15.728,1.41, 15.982,1.22, 15.574,1.13,
  15.681,1.27, 15.903,1.37, 15.759,1.17, 15.611,1.39, 15.829,1.21,
  16.017,1.27, 16.386,1.13, 16.148,1.22, 16.257,1.34, 16.471,1.09, 16.083,1.39, 16.324,1.18, 16.206,1.26, 16.437,1.31, 16.168,1.11,
  16.036,1.19, 16.298,1.25, 16.412,1.21, 16.126,1.33, 16.357,1.04, 16.243,1.17, 16.054,1.29, 16.488,1.16, 16.187,1.36, 16.276,1.12,
  16.397,1.27, 16.104,1.21, 16.337,1.31, 16.222,1.07, 16.456,1.23, 16.071,1.14, 16.313,1.38, 16.152,1.28, 16.429,1.14, 16.266,1.21,
  16.024,1.35, 16.374,1.19, 16.197,1.16, 16.463,1.32, 16.136,1.24, 16.284,1.29, 16.407,1.06, 16.063,1.23, 16.346,1.26, 16.233,1.41,
  16.496,1.18, 16.176,1.19, 16.318,1.11, 16.047,1.13, 16.441,1.25, 16.113,1.45, 16.364,1.33, 16.214,1.22, 16.483,1.28, 16.092,1.17,
  16.252,1.02, 16.422,1.37, 16.161,1.32, 16.304,1.24, 16.006,1.21,
  16.514,1.21, 16.892,1.07, 16.647,1.16, 16.763,1.24, 16.583,1.11, 16.936,1.17, 16.704,1.28, 16.828,1.03, 16.555,1.33, 16.974,1.12,
  16.676,1.09, 16.794,1.19, 16.614,1.26, 16.856,1.22, 16.737,1.14, 16.912,1.27, 16.536,1.16, 16.691,1.31, 16.953,1.05, 16.806,1.14,
  16.597,1.19, 16.752,1.08, 16.877,1.17, 16.627,1.36, 16.992,1.09, 16.718,1.21, 16.567,1.27, 16.843,1.11, 16.658,1.24, 16.924,1.14,
  16.782,1.29, 16.606,1.13, 16.886,1.24, 16.745,1.17, 16.964,1.19, 16.525,1.06, 16.815,1.26, 16.669,1.18, 16.943,0.99, 16.588,1.23,
  16.703,1.11, 16.865,1.32, 16.773,1.04, 16.546,1.29, 16.918,1.13, 16.634,1.15, 16.837,1.18, 16.728,1.36, 16.982,1.14, 16.574,1.42,
  17.014,1.08, 17.236,0.97, 17.097,1.16, 17.168,1.03, 17.283,1.09, 17.052,0.93, 17.193,1.14, 17.127,1.06, 17.261,0.91, 17.081,1.22,
  17.031,1.12, 17.214,1.05, 17.146,0.96, 17.304,0.98, 17.066,1.04, 17.177,1.18, 17.119,1.11, 17.247,1.02, 17.023,1.27, 17.156,1.09,
  17.205,0.89, 17.273,1.13, 17.044,0.99, 17.109,0.94, 17.322,0.92,
];

// unTimely: upper and lower edges of the band
const untimelyEdgeXY: number[] = [
  14.042,2.52, 14.118,1.38, 14.203,2.41, 14.287,1.29, 14.361,2.33, 14.448,1.24, 14.091,1.52, 14.176,2.48, 14.252,1.46, 14.329,2.27,
  14.412,1.37, 14.483,2.19, 14.027,1.61, 14.139,2.57, 14.219,1.33, 14.308,2.36, 14.392,1.21, 14.471,2.24,
  14.512,1.18, 14.583,2.21, 14.641,1.09, 14.708,2.12, 14.773,1.14, 14.839,2.03, 14.907,1.04, 14.976,1.96, 14.547,2.27, 14.618,1.26,
  14.684,2.17, 14.752,1.2, 14.812,1.97, 14.881,1.11, 14.948,2.09, 14.531,1.31, 14.597,2.04, 14.663,1.17, 14.729,1.93, 14.794,1.08,
  14.866,1.88, 14.931,1.19, 14.989,1.83,
  15.018,1.07, 15.076,1.93, 15.132,0.98, 15.194,1.86, 15.253,1.01, 15.318,1.79, 15.377,0.94, 15.436,1.84, 15.493,0.99, 15.047,1.78,
  15.103,1.12, 15.163,1.97, 15.221,1.06, 15.284,1.72, 15.342,1.09, 15.403,1.81, 15.468,1.02, 15.029,1.24, 15.088,1.69, 15.147,1.17,
  15.206,1.75, 15.267,0.96, 15.329,1.67, 15.391,1.11, 15.452,1.73,
  15.512,0.97, 15.571,1.74, 15.629,0.91, 15.688,1.68, 15.747,0.88, 15.806,1.71, 15.864,0.93, 15.923,1.63, 15.981,0.86, 15.541,1.62,
  15.598,1.04, 15.657,1.77, 15.716,0.99, 15.774,1.59, 15.833,0.95, 15.892,1.66, 15.951,1.02, 15.523,1.09, 15.584,1.58, 15.642,0.84,
  15.701,1.61, 15.761,1.06, 15.819,1.55, 15.878,0.89, 15.937,1.57, 15.994,1.48, 15.559,0.93, 15.677,1.53, 15.793,0.97, 15.908,1.52,
  16.013,0.92, 16.072,1.62, 16.131,0.86, 16.189,1.57, 16.248,0.81, 16.307,1.64, 16.366,0.88, 16.424,1.53, 16.483,0.84, 16.041,1.55,
  16.099,0.97, 16.158,1.69, 16.217,0.91, 16.276,1.49, 16.335,0.96, 16.393,1.58, 16.452,0.93, 16.027,1.04, 16.086,1.47, 16.145,0.78,
  16.204,1.54, 16.262,1.01, 16.321,1.46, 16.381,0.83, 16.439,1.44, 16.497,1.51, 16.058,0.89, 16.174,1.43, 16.291,0.87, 16.408,1.41,
  16.512,0.87, 16.571,1.52, 16.629,0.81, 16.688,1.47, 16.747,0.76, 16.806,1.49, 16.864,0.82, 16.923,1.42, 16.981,0.78, 16.541,1.45,
  16.598,0.92, 16.657,1.58, 16.716,0.85, 16.774,1.39, 16.833,0.88, 16.892,1.44, 16.951,0.91, 16.523,0.97, 16.584,1.36, 16.642,0.73,
  16.701,1.41, 16.761,0.94, 16.819,1.35, 16.878,0.74, 16.937,1.33, 16.994,1.38, 16.559,0.83, 16.677,1.34, 16.793,0.79, 16.908,1.31,
  17.012,0.81, 17.063,1.32, 17.118,0.77, 17.172,1.27, 17.226,0.79, 17.281,1.22, 17.334,0.82, 17.041,1.19, 17.094,0.86, 17.149,1.24,
  17.203,0.75, 17.257,1.16, 17.311,0.88, 17.027,1.36, 17.186,1.31,
];

// ---------- rendering ----------
const FONT = '"DejaVu Sans", "Liberation Sans", sans-serif';
const POINT_COLOR = "#17aac4";

function toPoints(...flats: number[][]) {
  const out: { x: number; y: number }[] = [];
  for (const flat of flats) {
    for (let i = 0; i + 1 < flat.length; i += 2) out.push({ x: flat[i], y: flat[i + 1] });
  }
  return out;
}

type Part = { t: string; it?: boolean };

function drawParts(ctx: CanvasRenderingContext2D, parts: Part[], cx: number, cy: number, size: number, color: string) {
  ctx.save();
  ctx.fillStyle = color;
  ctx.textBaseline = "middle";
  ctx.textAlign = "left";
  const fonts = parts.map((p) => `${p.it ? "italic " : ""}${size}px ${FONT}`);
  let total = 0;
  const widths = parts.map((p, i) => {
    ctx.font = fonts[i];
    const w = ctx.measureText(p.t).width;
    total += w;
    return w;
  });
  let x = cx - total / 2;
  parts.forEach((p, i) => {
    ctx.font = fonts[i];
    ctx.fillText(p.t, x, cy);
    x += widths[i];
  });
  ctx.restore();
}

type PanelCfg = {
  title: string;
  xMin: number;
  xMax: number;
  yAxisWidth: number;
  padRight: number;
  yLabelSize: number;
  yLabelX: number;
  yTickSize: number;
  legendW: number;
  rightSpineColor: string;
};

function makeDecor(cfg: PanelCfg) {
  return {
    id: "decor",
    afterDraw(chart: any) {
      const ctx: CanvasRenderingContext2D = chart.ctx;
      const a = chart.chartArea;
      ctx.save();
      ctx.lineWidth = 1;
      ctx.strokeStyle = "#999";
      ctx.beginPath();
      ctx.moveTo(a.left, Math.round(a.top) + 0.5);
      ctx.lineTo(a.right, Math.round(a.top) + 0.5);
      ctx.stroke();
      ctx.strokeStyle = cfg.rightSpineColor;
      ctx.beginPath();
      ctx.moveTo(Math.round(a.right) - 0.5, a.top);
      ctx.lineTo(Math.round(a.right) - 0.5, a.bottom);
      ctx.stroke();
      ctx.restore();

      // legend
      const bx = a.left + 5.5, by = a.top + 6.5, bw = cfg.legendW, bh = 23;
      ctx.save();
      ctx.fillStyle = "rgba(255,255,255,0.8)";
      ctx.strokeStyle = "#d3d3d3";
      ctx.lineWidth = 1;
      ctx.beginPath();
      (ctx as any).roundRect(bx, by, bw, bh, 3);
      ctx.fill();
      ctx.stroke();
      const ly = by + 11;
      ctx.strokeStyle = "#ff0000";
      ctx.lineWidth = 2;
      ctx.setLineDash([6, 3]);
      ctx.beginPath();
      ctx.moveTo(bx + 4, ly);
      ctx.lineTo(bx + 30, ly);
      ctx.stroke();
      ctx.setLineDash([]);
      ctx.fillStyle = "#222";
      ctx.font = `14px ${FONT}`;
      ctx.textAlign = "center";
      ctx.textBaseline = "middle";
      ctx.fillText(legendLabel, bx + 45, ly);
      ctx.restore();

      const cx = (a.left + a.right) / 2;
      const cy = (a.top + a.bottom) / 2;
      drawParts(ctx, [{ t: "SD/" }, { t: "σ", it: true }, { t: " " + cfg.title }], cx, 15, 19, "#222");
      drawParts(ctx, [{ t: xAxisLabel }], cx, 413, 19, "#222");
      ctx.save();
      ctx.translate(cfg.yLabelX, cy);
      ctx.rotate(-Math.PI / 2);
      drawParts(ctx, [{ t: "SD/" }, { t: "σ", it: true }], 0, 0, cfg.yLabelSize, "#333");
      ctx.restore();
    },
  };
}

function Panel({ cfg, data, width }: { cfg: PanelCfg; data: { x: number; y: number }[]; width: number }) {
  const ref = useRef<HTMLCanvasElement | null>(null);
  useEffect(() => {
    if (!ref.current) return;
    const chart = new Chart(ref.current, {
      type: "scatter",
      data: {
        datasets: [
          {
            label: legendLabel,
            data: [
              { x: cfg.xMin, y: referenceLevel },
              { x: cfg.xMax, y: referenceLevel },
            ],
            showLine: true,
            borderColor: "#ff0000",
            borderWidth: 2,
            borderDash: [7, 4],
            pointRadius: 0,
            order: 0,
          } as any,
          {
            label: "points",
            data,
            backgroundColor: POINT_COLOR,
            borderWidth: 0,
            pointRadius: 1.5,
            pointHoverRadius: 1.5,
            order: 1,
          } as any,
        ],
      },
      options: {
        responsive: false,
        animation: false,
        events: [],
        layout: { padding: { top: 36, right: cfg.padRight, left: 0, bottom: 0 } },
        plugins: { legend: { display: false }, tooltip: { enabled: false }, title: { display: false } },
        scales: {
          x: {
            type: "linear",
            min: cfg.xMin,
            max: cfg.xMax,
            afterBuildTicks: (s: any) => {
              s.ticks = xTickValues.map((v) => ({ value: v }));
            },
            afterFit: (s: any) => {
              s.height = 43;
            },
            ticks: {
              autoSkip: false,
              maxRotation: 0,
              padding: -1,
              color: "#222",
              font: { family: FONT, size: 14 },
              callback: (v: any) => String(v),
            },
            grid: { drawOnChartArea: false, drawTicks: true, tickLength: 4, color: "#999" },
            border: { color: "#bbb", width: 1 },
          },
          y: {
            type: "linear",
            min: yTickValues[0],
            max: yTickValues[yTickValues.length - 1],
            afterBuildTicks: (s: any) => {
              s.ticks = yTickValues.map((v) => ({ value: v }));
            },
            afterFit: (s: any) => {
              s.width = cfg.yAxisWidth;
            },
            ticks: {
              autoSkip: false,
              padding: 2,
              color: "#222",
              font: { family: FONT, size: cfg.yTickSize },
              callback: (v: any) => String(v),
            },
            grid: { drawOnChartArea: false, drawTicks: true, tickLength: 4, color: "#999" },
            border: { color: "#bbb", width: 1 },
          },
        },
      },
      plugins: [makeDecor(cfg)],
    } as any);
    return () => chart.destroy();
  }, []);
  return <canvas ref={ref} width={width} height={430} style={{ display: "block", width, height: 430 }} />;
}

const leftCfg: PanelCfg = {
  title: leftTitle,
  xMin: 10.936,
  xMax: 17.466,
  yAxisWidth: 55,
  padRight: 9,
  yLabelSize: 19,
  yLabelX: 20,
  yTickSize: 12,
  legendW: 53,
  rightSpineColor: "#777",
};

const rightCfg: PanelCfg = {
  title: rightTitle,
  xMin: 10.902,
  xMax: 17.473,
  yAxisWidth: 73,
  padRight: 1,
  yLabelSize: 8,
  yLabelX: 46,
  yTickSize: 14,
  legendW: 54,
  rightSpineColor: "#999",
};

const leftPoints = toPoints(neowiseXY, neowiseCoreXY, neowiseEdgeXY);
const rightPoints = toPoints(untimelyXY, untimelyBandXY, untimelyCoreXY, untimelyEdgeXY);

export default function App() {
  return (
    <div style={{ position: "fixed", left: 0, top: 0, width: 947, height: 430, background: "#fff", display: "flex" }}>
      <Panel cfg={leftCfg} data={leftPoints} width={470} />
      <Panel cfg={rightCfg} data={rightPoints} width={477} />
    </div>
  );
}
